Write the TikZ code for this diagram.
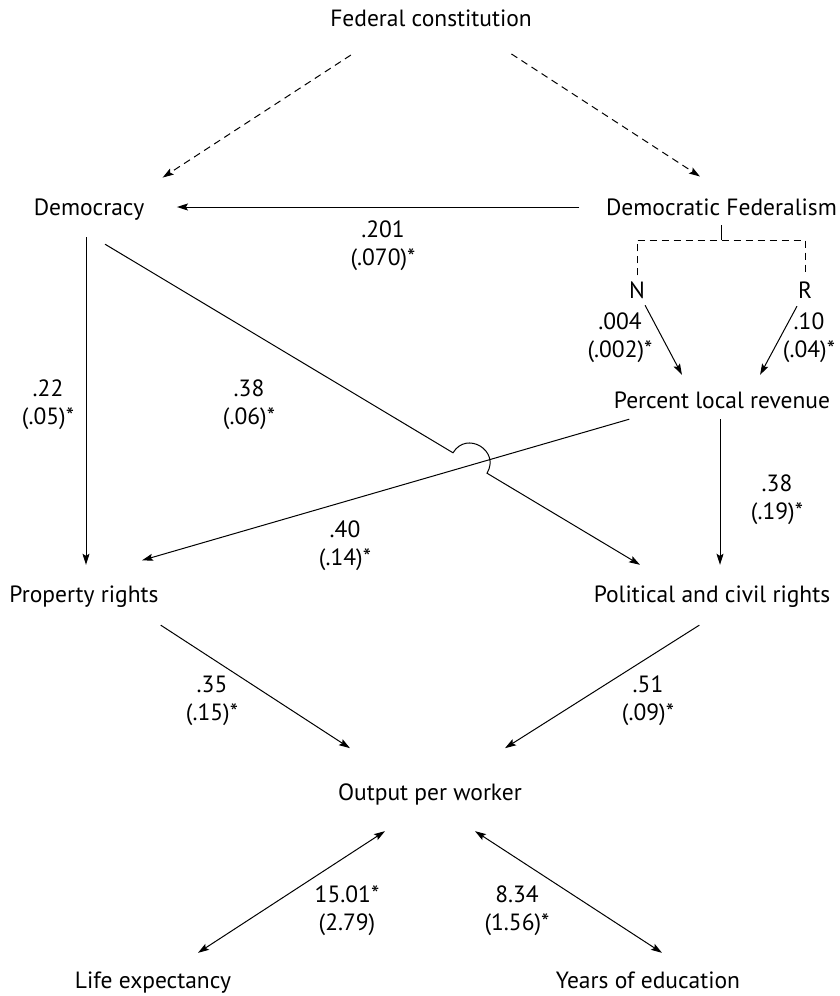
\documentclass[tikz,border=0pt]{standalone}
\usepackage{fontspec}
\setmainfont{PT Sans}
\usetikzlibrary{arrows.meta}

\begin{document}
\begin{tikzpicture}[x=1pt, y=-1pt,
  every node/.style={font=\fontsize{23.5}{28}\selectfont},
  var/.style={inner sep=0pt, text height=17pt, text depth=0pt},
  coef/.style={align=center, inner sep=0pt},
  link/.style={line width=1pt, -{Stealth[length=11pt,width=7pt,inset=2pt]}},
  biarrow/.style={line width=1pt, {Stealth[length=11pt,width=7pt,inset=2pt]}-{Stealth[length=11pt,width=7pt,inset=2pt]}},
  dashlink/.style={link, dash pattern=on 7pt off 5pt}]

\useasboundingbox (0,0) rectangle (839,996);

% Variabili
\node[var] (fed) at (431,18) {Federal constitution};
\node[var] (dem) at (89,207) {Democracy};
\node[var] (demfed) at (721.5,207) {Democratic Federalism};
\node[var] (n) at (637,290) {N};
\node[var] (r) at (805,290) {R};
\node[var] (plr) at (722,400) {Percent local revenue};
\node[var] (prop) at (84,594) {Property rights};
\node[var] (pcr) at (712,594) {Political and civil rights};
\node[var] (opw) at (430,792) {Output per worker};
\node[var] (life) at (153,980) {Life expectancy};
\node[var] (edu) at (648,980) {Years of education};

% Coefficienti
\node[coef] (c1) at (383,246) {.201\\(.070)*};
\node[coef] (c2) at (620,338) {.004\\(.002)*};
\node[coef] (c3) at (809,338) {.10\\(.04)*};
\node[coef] (c4) at (48,405) {.22\\(.05)*};
\node[coef] (c5) at (249,405) {.38\\(.06)*};
\node[coef] (c6) at (777,500) {.38\\(.19)*};
\node[coef] (c7) at (345,546) {.40\\(.14)*};
\node[coef] (c8) at (212,701) {.35\\(.15)*};
\node[coef] (c9) at (648,701) {.51\\(.09)*};
\node[coef] (c10) at (347,911) {15.01*\\(2.79)};
\node[coef] (c11) at (517,911) {8.34\\(1.56)*};

% Costituzione federale
\draw[dashlink, shorten <=52pt, shorten >=38pt] ([xshift=-36.6pt]fed.south) -- ([xshift=41.8pt]dem.north);
\draw[dashlink, shorten <=50pt, shorten >=40pt] ([xshift=38.5pt]fed.south) -- ([xshift=12pt]demfed.north);

% Federalismo democratico
\draw[link, shorten <=26.5pt, shorten >=32.5pt] (demfed.west) -- (dem.east);
\coordinate (brk) at (721,240);
\draw[line width=1pt] (brk) -- ++(0,-15);
\draw[line width=1pt, dash pattern=on 7pt off 5pt] ([yshift=6pt]n.north) -- (n.north |- brk) -- (r.north |- brk) -- ([yshift=6pt]r.north);
\draw[link, shorten <=7.4pt, shorten >=18.7pt] ([xshift=4.6pt]n.south) -- ([xshift=-31.3pt]plr.north);
\draw[link, shorten <=8.5pt, shorten >=18.7pt] ([xshift=-4pt]r.south) -- ([xshift=29.2pt]plr.north);

% Diritti
\draw[link, shorten <=21.5pt, shorten >=20.5pt] ([xshift=-3pt]dem.south) -- ([xshift=2pt]prop.north);
\draw[link, shorten <=10.5pt, shorten >=20.5pt] ([xshift=-2pt]plr.south) -- ([xshift=8pt]pcr.north);
\coordinate (hopA) at (453,452.8);
\coordinate (hopB) at (487,473.2);
\draw[link, shorten <=55.4pt, shorten >=39.9pt] ([xshift=-31.5pt]dem.south) -- (hopA) to[bend left=90, looseness=1.7] (hopB) -- ([xshift=-37.8pt]pcr.north);
\draw[link, shorten <=37.7pt, shorten >=89.7pt] ([xshift=-56.5pt]plr.south) -- ([xshift=-28.1pt]prop.north);

% Output
\draw[link, shorten <=41.2pt, shorten >=64.5pt] ([xshift=42.2pt]prop.south) -- ([xshift=-26pt]opw.north);
\draw[link, shorten <=42pt, shorten >=65.7pt] ([xshift=22.8pt]pcr.south) -- ([xshift=19.5pt]opw.north);
\draw[biarrow, shorten <=55.8pt, shorten >=33.9pt] ([xshift=1.75pt]opw.south) -- ([xshift=16.6pt]life.north);
\draw[biarrow, shorten <=55.8pt, shorten >=33.9pt] ([xshift=-1.75pt]opw.south) -- ([xshift=42.4pt]edu.north);

\end{tikzpicture}
\end{document}
